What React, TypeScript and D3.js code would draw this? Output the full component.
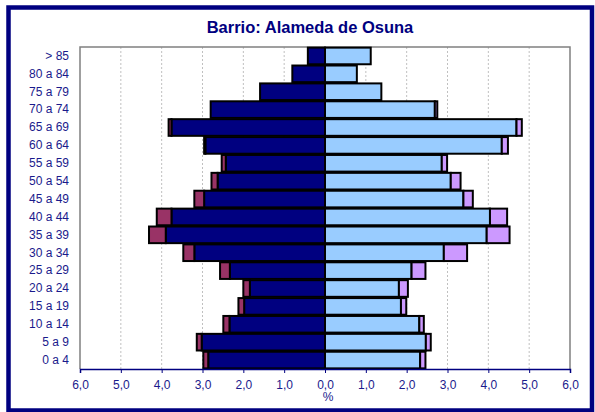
import * as d3 from 'd3';
import React, { useEffect, useRef } from 'react';

// Age groups, top to bottom
const ages = ["> 85", "80 a 84", "75 a 79", "70 a 74", "65 a 69", "60 a 64", "55 a 59", "50 a 54", "45 a 49",
    "40 a 44", "35 a 39", "30 a 34", "25 a 29", "20 a 24", "15 a 19", "10 a 14", "5 a 9", "0 a 4"];

// Men (left side), % of population
const menNative = [0.42, 0.80, 1.59, 2.80, 3.76, 2.93, 2.43, 2.63, 2.96, 3.76, 3.90, 3.20, 2.33, 1.84, 1.98, 2.34, 3.02, 2.86];
const menForeign = [0, 0, 0, 0, 0.07, 0.03, 0.10, 0.15, 0.24, 0.36, 0.41, 0.27, 0.24, 0.16, 0.14, 0.15, 0.12, 0.12];

// Women (right side)
const womenNative = [1.12, 0.78, 1.38, 2.69, 4.69, 4.33, 2.86, 3.08, 3.39, 4.04, 3.96, 2.91, 2.12, 1.81, 1.86, 2.31, 2.47, 2.33];
const womenForeign = [0, 0, 0, 0.06, 0.13, 0.15, 0.13, 0.24, 0.23, 0.42, 0.56, 0.57, 0.34, 0.22, 0.13, 0.11, 0.12, 0.13];

const xTicks = [-6, -5, -4, -3, -2, -1, 0, 1, 2, 3, 4, 5, 6];

const navy = "#000080";
const textColor = "#1a1a8c";
const font = "'Liberation Sans', Arial, sans-serif";

export default function App() {
    const svgRef = useRef<SVGSVGElement>(null);

    const width = 595;
    const height = 412;
    const left = 80, right = 570, top = 47, bottom = 369;

    useEffect(() => {
        const svg = d3.select(svgRef.current);
        svg.selectAll("*").remove();

        // outer frame
        svg.append("rect")
            .attr("x", 8.5).attr("y", 7.5)
            .attr("width", 583.5).attr("height", 403)
            .attr("fill", "white")
            .attr("stroke", navy)
            .attr("stroke-width", 4.5);

        const x = d3.scaleLinear().domain([-6, 6]).range([left, right]);
        const y = d3.scaleBand<string>().domain(ages).range([top, bottom]).paddingInner(0.07).paddingOuter(0.035);

        // grid lines
        svg.append("g")
            .selectAll("line")
            .data(xTicks.filter(d => Math.abs(d) < 6))
            .enter()
            .append("line")
            .attr("x1", d => x(d)).attr("x2", d => x(d))
            .attr("y1", top).attr("y2", bottom)
            .attr("stroke", "#c0c0c0")
            .attr("stroke-width", 1)
            .attr("stroke-dasharray", "2,2");

        // plot border (grey)
        svg.append("path")
            .attr("d", `M${left},${bottom}V${top}H${right}V${bottom}`)
            .attr("fill", "none")
            .attr("stroke", "#808080")
            .attr("stroke-width", 1.5);

        const fmt = (d: number) => d3.format(".1f")(Math.abs(d)).replace(".", ",");

        // bars
        const bars = svg.append("g").attr("stroke", "black").attr("stroke-width", 2);
        ages.forEach((a, i) => {
            const y0 = y(a)!;
            const h = y.bandwidth();
            const segs = [
                { x0: 0, x1: -menNative[i], c: navy },
                { x0: -menNative[i], x1: -(menNative[i] + menForeign[i]), c: "#993366" },
                { x0: 0, x1: womenNative[i], c: "#99ccff" },
                { x0: womenNative[i], x1: womenNative[i] + womenForeign[i], c: "#cc99ff" },
            ];
            segs.filter(s => s.x0 !== s.x1).forEach(s => {
                bars.append("rect")
                    .attr("x", Math.min(x(s.x0), x(s.x1)))
                    .attr("y", y0)
                    .attr("width", Math.abs(x(s.x1) - x(s.x0)))
                    .attr("height", h)
                    .attr("fill", s.c);
            });
        });

        // x axis
        const xAxis = svg.append("g")
            .attr("transform", `translate(0,${bottom})`)
            .call(d3.axisBottom(x).tickValues(xTicks).tickFormat(d => fmt(d as number)).tickSize(4).tickPadding(7));
        xAxis.select(".domain").attr("stroke", navy).attr("stroke-width", 1.5);
        xAxis.selectAll(".tick line").attr("stroke", navy);
        xAxis.selectAll("text")
            .attr("fill", textColor)
            .attr("font-size", 12)
            .attr("font-family", font);

        // y axis labels
        const yAxis = svg.append("g")
            .attr("transform", `translate(${left},0)`)
            .call(d3.axisLeft(y).tickSize(0).tickPadding(11));
        yAxis.select(".domain").remove();
        yAxis.selectAll("text")
            .attr("fill", textColor)
            .attr("font-size", 12)
            .attr("font-family", font);

        // % label
        svg.append("text")
            .attr("x", x(0) + 3)
            .attr("y", 401)
            .attr("text-anchor", "middle")
            .attr("fill", textColor)
            .attr("font-size", 12)
            .attr("font-family", font)
            .text("%");

        // title
        svg.append("text")
            .attr("x", 310)
            .attr("y", 33)
            .attr("text-anchor", "middle")
            .attr("fill", navy)
            .attr("font-size", 16.5)
            .attr("font-weight", "bold")
            .attr("font-family", font)
            .text("Barrio: Alameda de Osuna");
    }, []);

    return (
        <div style={{ position: "absolute", left: 0, top: 0 }}>
            <svg ref={svgRef} width={width} height={height} style={{ display: "block" }}></svg>
        </div>
    );
}
